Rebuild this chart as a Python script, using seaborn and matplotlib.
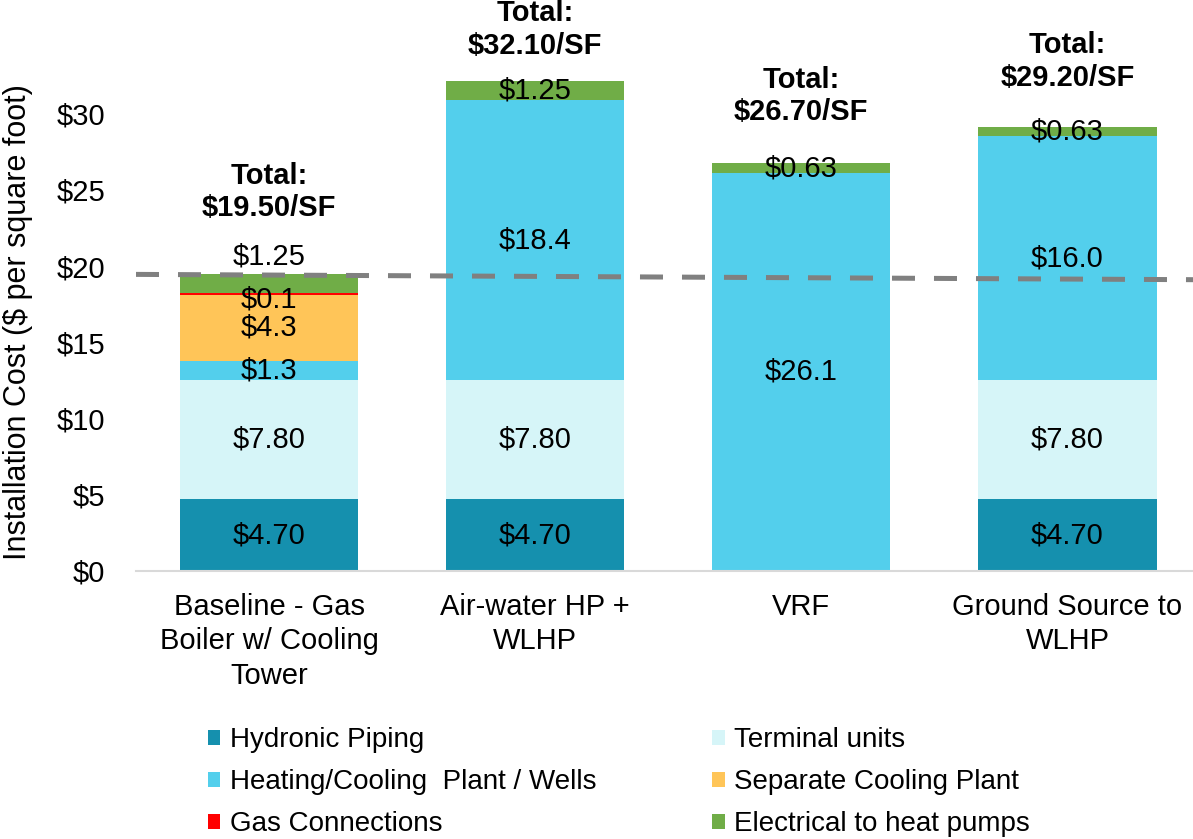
import numpy as np
import pandas as pd
import matplotlib
matplotlib.use("Agg")
import matplotlib.pyplot as plt
from matplotlib.patches import Patch
import seaborn as sns

# ---------------- data ----------------
categories = ["Baseline - Gas\nBoiler w/ Cooling\nTower", "Air-water HP +\nWLHP", "VRF",
              "Ground Source to\nWLHP"]
series_names = ["Hydronic Piping", "Terminal units", "Heating/Cooling  Plant / Wells",
                "Separate Cooling Plant", "Gas Connections", "Electrical to heat pumps"]
hydronic_piping = [4.70, 4.70, 0.0, 4.70]
terminal_units = [7.80, 7.80, 0.0, 7.80]
plant_wells = [1.3, 18.4, 26.1, 16.0]
separate_cooling = [4.3, 0.0, 0.0, 0.0]
gas_connections = [0.1, 0.0, 0.0, 0.0]
electrical = [1.25, 1.25, 0.63, 0.63]
totals = [19.50, 32.10, 26.70, 29.20]
baseline_ref = [19.45, 19.1]          # dashed baseline reference line (left end, right end)
y_ticks = [0, 5, 10, 15, 20, 25, 30]

# ---------------- style ----------------
colors = ["#1590AE", "#D6F5F8", "#53CFEC", "#FFC558", "#FF0000", "#70AD47"]
fmts = ["{:.2f}", "{:.2f}", "{:.1f}", "{:.1f}", "{:.1f}", "{:.2f}"]
label_y_override = {(4, 0): 17.8, (5, 0): 20.6}
total_label_y = [24.85, 35.5, 31.15, 33.4]

sns.set_style("white")
plt.rcParams["font.family"] = ["Liberation Sans", "DejaVu Sans"]
plt.rcParams["text.color"] = "black"
plt.rcParams["xtick.color"] = "black"
plt.rcParams["ytick.color"] = "black"
FS = 21

W, H = 1193, 839
fig = plt.figure(figsize=(W / 100, H / 100), dpi=100)
y0_px, px_per_unit = 571, 15.25
ymax = 37
ax = fig.add_axes([136 / W, 1 - y0_px / H, (1200.5 - 136) / W, ymax * px_per_unit / H])

values = [hydronic_piping, terminal_units, plant_wells, separate_cooling, gas_connections, electrical]
bottom = np.zeros(len(categories))
for i, (name, vals, col) in enumerate(zip(series_names, values, colors)):
    df = pd.DataFrame({"category": categories, "value": vals})
    sns.barplot(data=df, x="category", y="value", order=categories, color=col, saturation=1,
                width=0.67, bottom=bottom.copy(), linewidth=0, errorbar=None, ax=ax, zorder=2)
    for j, v in enumerate(vals):
        if v > 0:
            yy = label_y_override.get((i, j), bottom[j] + v / 2)
            ax.text(j, yy, "$" + fmts[i].format(v), ha="center", va="center",
                    fontsize=FS, color="black", zorder=5)
    bottom = bottom + np.array(vals)

for j, t in enumerate(totals):
    ax.text(j, total_label_y[j], "Total:\n${:.2f}/SF".format(t), ha="center", va="center",
            fontsize=FS, fontweight="bold", linespacing=1.2, zorder=5)

ax.plot([-0.5, 3.5], baseline_ref, color="#808080", lw=3.6, dashes=(4.6, 3.8),
        solid_capstyle="butt", dash_capstyle="butt", zorder=4)

ax.set_xlim(-0.5, 3.5)
ax.set_ylim(0, ymax)
ax.set_yticks(y_ticks)
ax.set_yticklabels(["${}".format(v) for v in y_ticks], fontsize=FS)
ax.set_xticks(range(len(categories)))
ax.set_xticklabels(categories, fontsize=FS, linespacing=1.28)
ax.tick_params(axis="y", length=0, pad=22)
ax.tick_params(axis="x", length=0, pad=16)
ax.set_xlabel("")
ax.set_ylabel("")
for s in ["left", "top", "right"]:
    ax.spines[s].set_visible(False)
ax.spines["bottom"].set_color("#D9D9D9")
ax.spines["bottom"].set_linewidth(1.5)
ax.grid(False)

fig.text(18 / W, 1 - 322 / H, "Installation Cost ($ per square foot)", rotation=90,
         ha="center", va="center", fontsize=22)

handles = [Patch(facecolor=c, edgecolor="none", label=n) for c, n in zip(colors, series_names)]
leg_kw = dict(frameon=False, fontsize=20, handlelength=0.45, handleheight=0.45,
              handletextpad=0.35, labelspacing=0.575, borderpad=0, borderaxespad=0, loc="upper left")
fig.legend(handles=[handles[0], handles[2], handles[4]], bbox_to_anchor=(208 / W, 1 - 727 / H), **leg_kw)
fig.legend(handles=[handles[1], handles[3], handles[5]], bbox_to_anchor=(712 / W, 1 - 727 / H), **leg_kw)

fig.savefig("out.png", dpi=100)
